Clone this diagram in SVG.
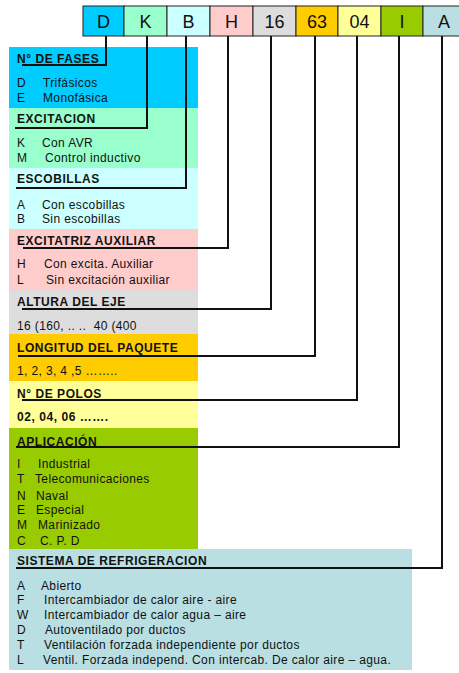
<svg xmlns="http://www.w3.org/2000/svg" width="459" height="673" viewBox="0 0 459 673">
<style>
text{font-family:"Liberation Sans",Arial,sans-serif;fill:#111}
.code{font-size:18px;text-anchor:middle}
.h{font-size:12px;font-weight:bold;letter-spacing:0.55px}
.t{font-size:12px;letter-spacing:0.37px}
.pre{white-space:pre}
.box{stroke:#222;stroke-width:1}
.conn{fill:none;stroke:#111;stroke-width:2}
</style>
<rect width="459" height="673" fill="#fff"/>
<g id="panels">
<rect x="9" y="47" width="189" height="61" fill="#00CCFF"/>
<rect x="9" y="108" width="189" height="60" fill="#99FFCC"/>
<rect x="9" y="168" width="189" height="61" fill="#CCFFFF"/>
<rect x="9" y="229" width="189" height="61" fill="#FFCCCC"/>
<rect x="9" y="290" width="189" height="44" fill="#DDDDDD"/>
<rect x="9" y="334" width="189" height="47" fill="#FFCC00"/>
<rect x="9" y="381" width="189" height="47" fill="#FFFF99"/>
<rect x="9" y="428" width="189" height="121" fill="#99CC00"/>
<rect x="9" y="549" width="403" height="121" fill="#B9DFE3"/>
</g>
<g id="code">
<g id="code-D"><rect class="box" x="83" y="6" width="41" height="30" fill="#00CCFF"/><text class="code" x="103.5" y="28">D</text></g>
<g id="code-K"><rect class="box" x="124" y="6" width="43" height="30" fill="#99FFCC"/><text class="code" x="145.5" y="28">K</text></g>
<g id="code-B"><rect class="box" x="167" y="6" width="43" height="30" fill="#CCFFFF"/><text class="code" x="188.5" y="28">B</text></g>
<g id="code-H"><rect class="box" x="210" y="6" width="43" height="30" fill="#FFCCCC"/><text class="code" x="231.5" y="28">H</text></g>
<g id="code-16"><rect class="box" x="253" y="6" width="43" height="30" fill="#DDDDDD"/><text class="code" x="274.5" y="28">16</text></g>
<g id="code-63"><rect class="box" x="296" y="6" width="42" height="30" fill="#FFCC00"/><text class="code" x="317" y="28">63</text></g>
<g id="code-04"><rect class="box" x="338" y="6" width="43" height="30" fill="#FFFF99"/><text class="code" x="359.5" y="28">04</text></g>
<g id="code-I"><rect class="box" x="381" y="6" width="42" height="30" fill="#99CC00"/><text class="code" x="402" y="28">I</text></g>
<g id="code-A"><rect class="box" x="423" y="6" width="43" height="30" fill="#B9DFE3"/><text class="code" x="444" y="28">A</text></g>
</g>
<g id="connectors">
<polyline class="conn" points="106,36 106,65 22,65"/>
<polyline class="conn" points="147,36 147,128 15,128"/>
<polyline class="conn" points="186,36 186,188 16,188"/>
<polyline class="conn" points="228,36 228,248 23,248"/>
<polyline class="conn" points="271,36 271,309 22,309"/>
<polyline class="conn" points="315,36 315,356 18,356"/>
<polyline class="conn" points="357,36 357,400 22,400"/>
<polyline class="conn" points="399,36 399,447 16,447"/>
<polyline class="conn" points="442,36 442,568 16,568"/>
</g>
<g id="fases">
<text class="h" x="17" y="62.5">N° DE FASES</text>
<text class="t" x="17" y="87">D</text><text class="t" x="43" y="87">Trifásicos</text>
<text class="t" x="17" y="101.5">E</text><text class="t" x="43" y="101.5">Monofásica</text>
</g>
<g id="excitacion">
<text class="h" x="17" y="123">EXCITACION</text>
<text class="t" x="17" y="147">K</text><text class="t" x="42" y="147">Con AVR</text>
<text class="t" x="17" y="162">M</text><text class="t" x="45" y="162">Control inductivo</text>
</g>
<g id="escobillas">
<text class="h" x="17" y="183">ESCOBILLAS</text>
<text class="t" x="17" y="209">A</text><text class="t" x="42" y="209">Con escobillas</text>
<text class="t" x="17" y="223">B</text><text class="t" x="42" y="223">Sin escobillas</text>
</g>
<g id="excitatriz">
<text class="h" x="17" y="245">EXCITATRIZ AUXILIAR</text>
<text class="t" x="17" y="268">H</text><text class="t" x="44" y="268">Con excita. Auxiliar</text>
<text class="t" x="17" y="284">L</text><text class="t" x="46" y="284">Sin excitación auxiliar</text>
</g>
<g id="altura">
<text class="h" x="17" y="305.5">ALTURA DEL EJE</text>
<text class="t pre" x="17" y="330" font-size="11">16 (160, .. ..  40 (400</text>
</g>
<g id="longitud">
<text class="h" x="17" y="351.5">LONGITUD DEL PAQUETE</text>
<text class="t" x="17" y="375" font-size="11">1, 2, 3, 4 ,5 ……..</text>
</g>
<g id="polos">
<text class="h" x="17" y="397.5">N° DE POLOS</text>
<text class="h" x="17" y="421" font-size="11">02, 04, 06 …….</text>
</g>
<g id="aplicacion">
<text class="h" x="17" y="445.5">APLICACIÓN</text>
<text class="t" x="17" y="468">I</text><text class="t" x="38" y="468">Industrial</text>
<text class="t" x="17" y="483">T</text><text class="t" x="35" y="483">Telecomunicaciones</text>
<text class="t" x="17" y="499.5">N</text><text class="t" x="36" y="499.5">Naval</text>
<text class="t" x="17" y="514">E</text><text class="t" x="36" y="514">Especial</text>
<text class="t" x="17" y="529">M</text><text class="t" x="38" y="529">Marinizado</text>
<text class="t" x="17" y="545">C</text><text class="t" x="40" y="545">C. P. D</text>
</g>
<g id="refrigeracion">
<text class="h" x="17" y="565">SISTEMA DE REFRIGERACION</text>
<text class="t" x="17" y="590">A</text><text class="t" x="41" y="590">Abierto</text>
<text class="t" x="17" y="604">F</text><text class="t" x="44" y="604">Intercambiador de calor aire - aire</text>
<text class="t" x="17" y="619">W</text><text class="t" x="44" y="619">Intercambiador de calor agua – aire</text>
<text class="t" x="17" y="634">D</text><text class="t" x="45" y="634">Autoventilado por ductos</text>
<text class="t" x="17" y="649">T</text><text class="t" x="44" y="649">Ventilación forzada independiente por ductos</text>
<text class="t" x="17" y="664">L</text><text class="t" x="43" y="664">Ventil. Forzada independ. Con intercab. De calor aire – agua.</text>
</g>
</svg>
